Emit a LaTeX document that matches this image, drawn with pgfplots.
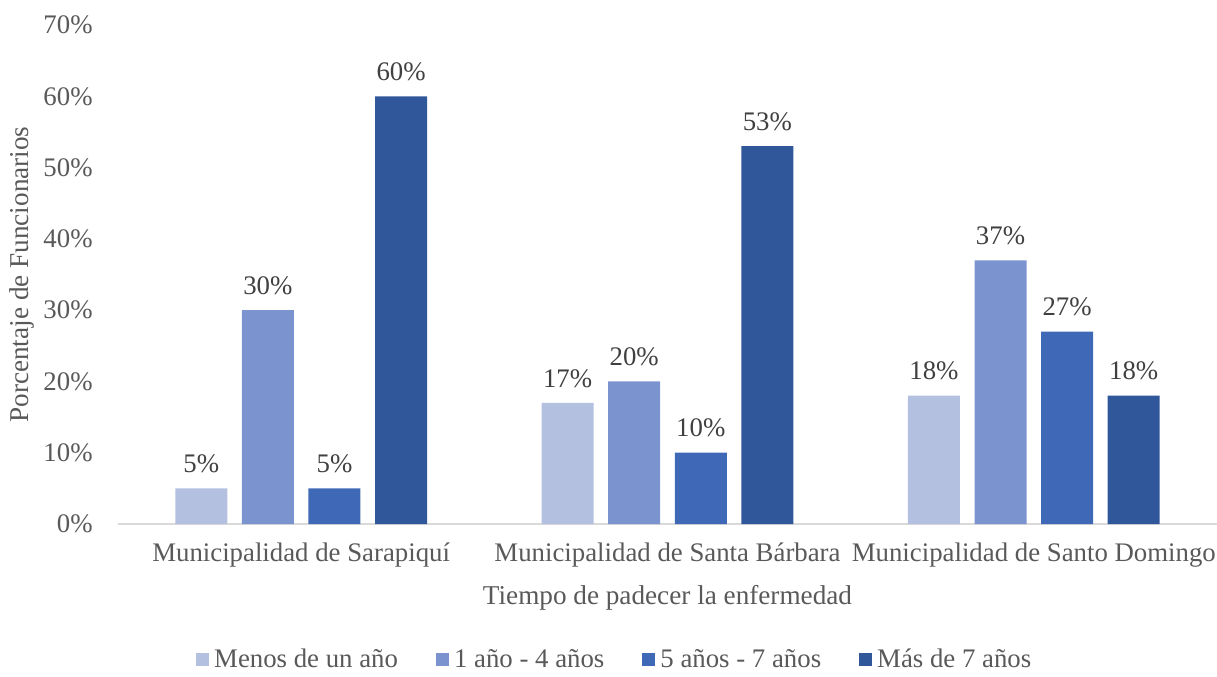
\documentclass[border=0pt]{standalone}
\usepackage{fontspec}
\setmainfont{Liberation Serif}
\usepackage{pgfplots}
\pgfplotsset{compat=1.18}
\definecolor{c1}{HTML}{B4C0E0}
\definecolor{c2}{HTML}{7B94D0}
\definecolor{c3}{HTML}{3F69B7}
\definecolor{c4}{HTML}{30579A}
\definecolor{txt}{HTML}{595959}
\definecolor{lbl}{HTML}{404040}
\begin{document}
\begin{tikzpicture}
\begin{axis}[
  /pgf/number format/assume math mode=true,
  at={(0pt,0pt)}, anchor=south west,
  scale only axis, width=549.5pt, height=249.5pt,
  xmin=-0.5, xmax=2.5, ymin=0, ymax=70,
  ybar=7.3pt, bar width=26pt,
  axis x line*=bottom, axis y line*=left,
  y axis line style={draw=none},
  x axis line style={draw=black!15, line width=0.8pt},
  major tick length=0pt,
  xtick={0,1,2},
  xticklabels={Municipalidad de Sarapiquí, Municipalidad de Santa Bárbara, Municipalidad de Santo Domingo},
  ytick={0,10,...,70},
  yticklabel={\pgfmathprintnumber{\tick}\%},
  tick label style={font=\fontsize{13.4}{15}\selectfont, text=txt},
  xticklabel style={anchor=center, yshift=-15.5pt, inner sep=0pt},
  yticklabel style={anchor=east, xshift=-12.5pt, inner sep=0pt},
  ylabel={Porcentaje de Funcionarios},
  xlabel={Tiempo de padecer la enfermedad},
  label style={font=\fontsize{13.6}{15}\selectfont, text=txt},
  ylabel style={at={(axis description cs:-0.0874,0.5)}, rotate=0, anchor=center},
  xlabel style={at={(axis description cs:0.5,-0.147)}, anchor=center},
  nodes near coords={\pgfmathprintnumber{\pgfplotspointmeta}\%},
  every node near coord/.append style={font=\fontsize{13.4}{15}\selectfont, text=lbl, anchor=south, inner sep=0pt, yshift=7.5pt},
  legend style={at={(axis description cs:0.452,-0.272)}, anchor=center, draw=none, fill=none,
    legend columns=4, font=\fontsize{13.4}{15}\selectfont, text=txt, inner sep=1pt,
    nodes={inner sep=1pt},
    /tikz/every even column/.append style={column sep=18pt}},
  legend image code/.code={\fill[#1] (0pt,-3.25pt) rectangle (6.5pt,3.25pt); \path (8pt,0pt);},
]
\addplot[fill=c1, draw=none] coordinates {(0,5) (1,17) (2,18)};
\addplot[fill=c2, draw=none] coordinates {(0,30) (1,20) (2,37)};
\addplot[fill=c3, draw=none] coordinates {(0,5) (1,10) (2,27)};
\addplot[fill=c4, draw=none] coordinates {(0,60) (1,53) (2,18)};
\legend{Menos de un año, 1 año - 4 años, 5 años - 7 años, Más de 7 años}
\end{axis}
\pgfresetboundingbox
\path[use as bounding box] (-59pt,-76pt) rectangle (549.5pt,262pt);
\end{tikzpicture}
\end{document}
